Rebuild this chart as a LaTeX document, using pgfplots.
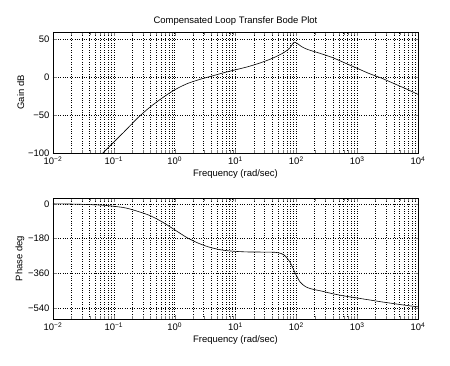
\documentclass[border=0pt]{standalone}
\usepackage{fontspec}
\setmainfont{Liberation Sans}
\usepackage{pgfplots}
\pgfplotsset{compat=1.18}
\begin{document}
\begin{tikzpicture}
\path (0bp,0bp) rectangle (450bp,366bp);
\begin{axis}[xmode=log, scale only axis, width=365bp, height=121bp,
  anchor=south west, at={(53bp,213bp)},
  xmin=1e-2, xmax=1e4,
  xtick={1e-2,1e-1,1,1e1,1e2,1e3,1e4},
  xticklabels={10\textsuperscript{−2},10\textsuperscript{−1},10\textsuperscript{0},10\textsuperscript{1},10\textsuperscript{2},10\textsuperscript{3},10\textsuperscript{4}},
  grid=both,
  major grid style={dotted, black, line width=0.5pt},
  minor grid style={dotted, black, line width=0.5pt},
  axis line style={line width=0.5pt},
  tick label style={font=\fontsize{9.5}{11}\selectfont},
  xlabel style={font=\fontsize{9.5}{11}\selectfont, yshift=2pt},
  ylabel style={font=\fontsize{9.5}{11}\selectfont, yshift=-3pt},
  xlabel={Frequency (rad/sec)},
  ymin=-100, ymax=60,
  ytick={-100,-50,0,50},
  yticklabels={−100,−50,0,50},
  ylabel={Gain dB},
  title={Compensated Loop Transfer Bode Plot},
  title style={font=\fontsize{9.5}{11}\selectfont, yshift=-3pt},
]
\addplot[black, line width=0.6pt, smooth, tension=0.5] table[x expr={10^\thisrowno{0}}, y index=1] {
-1.18 -100
-1.0 -85.5
-0.8 -69.5
-0.6 -53
-0.4 -39
-0.2 -27
0.0 -16.5
0.2 -8.5
0.4 -3
0.6 1.5
0.8 6
1.0 10
1.2 14
1.4 19
1.6 25
1.8 33
1.9 39.5
1.97 46.5
2.1 40
2.2 36.5
2.4 31.5
2.6 26
2.8 19
3.0 12
3.2 5
3.4 -1
3.6 -8
3.8 -15
4.0 -22.5
};
\end{axis}
\begin{axis}[xmode=log, scale only axis, width=365bp, height=121bp,
  anchor=south west, at={(53bp,47bp)},
  xmin=1e-2, xmax=1e4,
  xtick={1e-2,1e-1,1,1e1,1e2,1e3,1e4},
  xticklabels={10\textsuperscript{−2},10\textsuperscript{−1},10\textsuperscript{0},10\textsuperscript{1},10\textsuperscript{2},10\textsuperscript{3},10\textsuperscript{4}},
  grid=both,
  major grid style={dotted, black, line width=0.5pt},
  minor grid style={dotted, black, line width=0.5pt},
  axis line style={line width=0.5pt},
  tick label style={font=\fontsize{9.5}{11}\selectfont},
  xlabel style={font=\fontsize{9.5}{11}\selectfont, yshift=2pt},
  ylabel style={font=\fontsize{9.5}{11}\selectfont, yshift=-3pt},
  xlabel={Frequency (rad/sec)},
  ymin=-598, ymax=30,
  ytick={-540,-360,-180,0},
  yticklabels={−540,−360,−180,0},
  ylabel={Phase deg},
]
\addplot[black, line width=0.6pt, smooth, tension=0.5] table[x expr={10^\thisrowno{0}}, y index=1] {
-2.0 0
-1.6 -2
-1.2 -7
-1.0 -13
-0.8 -22
-0.6 -40
-0.4 -62
-0.2 -95
0.0 -135
0.2 -175
0.4 -206
0.6 -228
0.8 -241
1.0 -247
1.2 -250
1.4 -250.5
1.6 -251
1.7 -254
1.8 -266
1.9 -305
1.98 -359
2.06 -405
2.15 -430
2.25 -442
2.4 -452
2.6 -467
2.8 -479
3.0 -489
3.2 -499
3.4 -509
3.6 -518
3.8 -527
4.0 -535
};
\end{axis}
\end{tikzpicture}
\end{document}
